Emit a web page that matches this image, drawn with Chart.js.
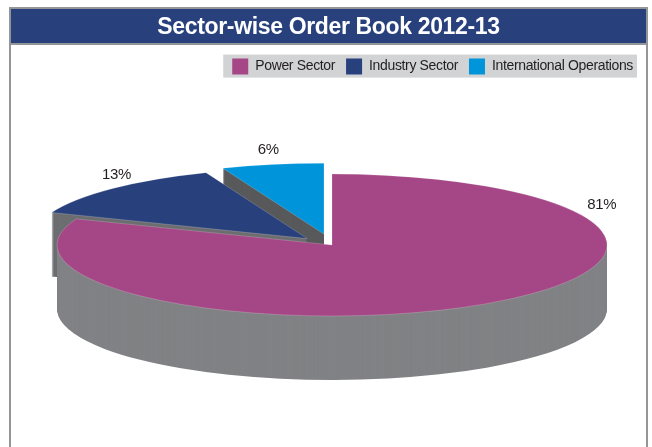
<!DOCTYPE html>
<html>
<head>
<meta charset="utf-8">
<title>Sector-wise Order Book 2012-13</title>
<style>
  html, body { margin: 0; padding: 0; background: #fff; }
  canvas { display: block; }
</style>
<script src="https://cdn.jsdelivr.net/npm/chart.js@4"></script>
</head>
<body>
<canvas id="orderBookChart" width="652" height="447"></canvas>
<script>
const chartTitle = 'Sector-wise Order Book 2012-13'
const sectors = ['Power Sector', 'Industry Sector', 'International Operations']
const orderShare = [81, 13, 6]

const sliceColors = ['#a54686', '#28407c', '#0095da']
const wallColors = ['#818285', '#6d6e71', '#58595b']

// how the flat pie gets laid over on its side
const pie = {
  x: 332,
  y: 245,
  radius: 275,
  squash: 0.258,
  depth: 64
}
const sliceShift = [0, 35, 43]
const labelAngle = [58.9, 323, 350.5]
const labelReach = [1.146, 1.153, 1.229]
const labelDrop = 1.5

const fontFamily = '"Liberation Sans", Arial, sans-serif'

const frame = {
  id: 'frame',
  beforeLayout(chart) {
    // the original type is a narrow face, tighten what we have
    chart.ctx.letterSpacing = '-0.35px'
  },
  beforeDraw(chart) {
    const ctx = chart.ctx
    ctx.save()
    ctx.fillStyle = '#939598'
    ctx.fillRect(9, 7, 2, 440)
    ctx.fillRect(646, 7, 2, 440)
    ctx.fillRect(9, 7, 639, 2)
    ctx.fillRect(9, 43, 639, 2)
    ctx.fillStyle = '#28407c'
    ctx.fillRect(11, 9, 635, 34)

    // grey strip behind the legend
    const boxes = chart.legend.legendHitBoxes
    const first = boxes[0]
    const last = boxes[boxes.length - 1]
    ctx.fillStyle = '#d1d3d4'
    ctx.fillRect(first.left - 9, first.top - 4, last.left + last.width - first.left + 13, first.height + 7)
    ctx.restore()
  }
}

function drawSlice(chart, arc, i, lift, color, edge) {
  const ctx = chart.ctx
  const mid = (arc.startAngle + arc.endAngle) / 2
  const saved = arc.options
  arc.options = {
    ...saved,
    backgroundColor: color,
    borderColor: 'rgba(255, 255, 255, 0.5)',
    borderWidth: edge ? 0.6 : 0
  }
  ctx.save()
  ctx.translate(pie.x, pie.y + lift)
  ctx.scale(1, pie.squash)
  ctx.translate(Math.cos(mid) * sliceShift[i] - arc.x, Math.sin(mid) * sliceShift[i] - arc.y)
  arc.draw(ctx)
  ctx.restore()
  arc.options = saved
}

const tiltedPie = {
  id: 'tiltedPie',
  beforeDatasetsDraw(chart) {
    const ctx = chart.ctx
    const arcs = chart.getDatasetMeta(0).data

    // back slices first so the power slice sits on top of them
    for (let i = arcs.length - 1; i >= 0; i--) {
      for (let lift = pie.depth; lift > 0; lift--) {
        drawSlice(chart, arcs[i], i, lift, wallColors[i], false)
      }
      drawSlice(chart, arcs[i], i, 0, sliceColors[i], true)
    }

    ctx.save()
    ctx.font = '15px ' + fontFamily
    ctx.fillStyle = '#231f20'
    ctx.textAlign = 'center'
    ctx.textBaseline = 'middle'
    arcs.forEach((arc, i) => {
      const mid = (arc.startAngle + arc.endAngle) / 2
      const a = labelAngle[i] * Math.PI / 180
      const r = pie.radius * labelReach[i]
      const x = pie.x + Math.cos(mid) * sliceShift[i] + Math.sin(a) * r
      const y = pie.y + (Math.sin(mid) * sliceShift[i] - Math.cos(a) * r) * pie.squash
      ctx.fillText(orderShare[i] + '%', x, y + labelDrop)
    })
    ctx.restore()
    return false
  }
}

new Chart(document.getElementById('orderBookChart'), {
  type: 'pie',
  data: {
    labels: sectors,
    datasets: [{
      data: orderShare,
      backgroundColor: sliceColors,
      borderWidth: 0
    }]
  },
  options: {
    responsive: false,
    animation: false,
    radius: pie.radius,
    layout: {
      padding: { left: 13, right: 8, top: 8, bottom: 0 }
    },
    plugins: {
      tooltip: { enabled: false },
      title: {
        display: true,
        text: chartTitle,
        color: '#fff',
        font: { family: fontFamily, size: 23, weight: 'bold' },
        padding: { top: 6, bottom: 6 }
      },
      legend: {
        position: 'top',
        align: 'end',
        labels: {
          boxWidth: 16,
          boxHeight: 16,
          padding: 11,
          color: '#231f20',
          font: { family: fontFamily, size: 14 }
        }
      }
    }
  },
  plugins: [frame, tiltedPie]
})
</script>
</body>
</html>
